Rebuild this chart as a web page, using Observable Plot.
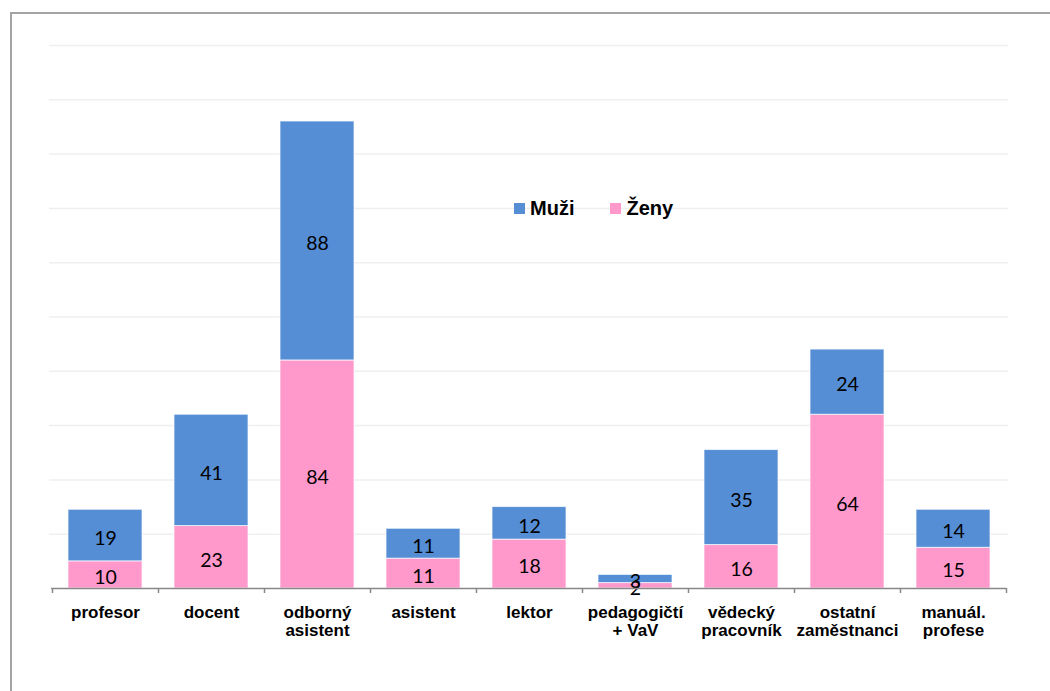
<!DOCTYPE html>
<html>
<head>
<meta charset="utf-8">
<script src="https://cdn.jsdelivr.net/npm/d3@7"></script>
<script src="https://cdn.jsdelivr.net/npm/@observablehq/plot@0.6"></script>
<style>
  html, body { margin: 0; padding: 0; background: #fff; }
  #wrap { position: relative; width: 1050px; height: 691px; overflow: hidden; }
  #frame { position: absolute; left: 10px; top: 12px; width: 1200px; height: 800px;
           border-top: 2px solid #a3a3a3; border-left: 2px solid #a3a3a3; box-sizing: border-box; }
  #chart { position: absolute; left: 0; top: 0; }
  #legend { position: absolute; left: 514px; top: 197px; display: flex; align-items: center;
            font-family: "Liberation Sans", Arial, sans-serif; font-weight: bold; font-size: 20px; color: #000; }
  .sw { width: 11px; height: 11px; display: inline-block; margin-right: 5px; }
  .item { display: flex; align-items: center; margin-right: 36px; }
</style>
</head>
<body>
<div id="wrap">
  <div id="frame"></div>
  <div id="chart"></div>
  <div id="legend"></div>
</div>
<script>
const categories = ["profesor", "docent", "odborný\nasistent", "asistent", "lektor",
  "pedagogičtí\n+ VaV", "vědecký\npracovník", "ostatní\nzaměstnanci", "manuál.\nprofese"];
const zeny = [10, 23, 84, 11, 18, 2, 16, 64, 15];
const muzi = [19, 41, 88, 11, 12, 3, 35, 24, 14];
const seriesNames = ["Muži", "Ženy"];
const seriesColors = ["#558ED5", "#FF99CC"];
const gridTicks = [20, 40, 60, 80, 100, 120, 140, 160, 180, 200];

const data = [];
categories.forEach((c, i) => {
  data.push({cat: c, series: "Ženy", value: zeny[i]});
  data.push({cat: c, series: "Muži", value: muzi[i]});
});
const stackOpts = {x: "cat", y: "value", z: "series", order: ["Ženy", "Muži"]};

const chart = Plot.plot({
  width: 1050,
  height: 691,
  marginLeft: 51,
  marginRight: 44,
  marginTop: 45,
  marginBottom: 103,
  x: {domain: categories, padding: 0},
  y: {domain: [0, 200], axis: null},
  color: {domain: seriesNames, range: seriesColors},
  style: {background: "transparent"},
  marks: [
    Plot.ruleY(gridTicks, {y: d => d, stroke: "#efefef", strokeWidth: 1.5, insetLeft: -2, insetRight: -2}),
    Plot.barY(data, Plot.stackY({...stackOpts, fill: "series", stroke: "#ffffff", strokeWidth: 1, strokeOpacity: 0.7, insetLeft: 16, insetRight: 16})),
    Plot.text(data, Plot.stackY({...stackOpts, text: d => String(d.value), fill: "#000", fontSize: 19.5, dy: 3,
      fontFamily: "Lato, 'Open Sans', sans-serif"})),
    Plot.ruleY([0], {stroke: "#888", strokeWidth: 1.5}),
    Plot.ruleX(categories, {x: d => d, y1: 0, y2: 0, dx: -53, insetBottom: -5, stroke: "#888", strokeWidth: 1.5}),
    Plot.ruleX([categories[categories.length - 1]], {x: d => d, y1: 0, y2: 0, dx: 53, insetBottom: -5, stroke: "#888", strokeWidth: 1.5}),
    Plot.axisX({tickSize: 0, tickPadding: 16, fontSize: 17, fontWeight: "bold", lineHeight: 1.1,
      fontFamily: "'Liberation Sans', Arial, sans-serif", fill: "#000", label: null})
  ]
});
document.getElementById("chart").appendChild(chart);

const legend = document.getElementById("legend");
seriesNames.forEach((name, i) => {
  const item = document.createElement("div");
  item.className = "item";
  const sw = document.createElement("span");
  sw.className = "sw";
  sw.style.background = seriesColors[i];
  item.appendChild(sw);
  const t = document.createElement("span");
  t.textContent = name;
  item.appendChild(t);
  legend.appendChild(item);
});
</script>
</body>
</html>
